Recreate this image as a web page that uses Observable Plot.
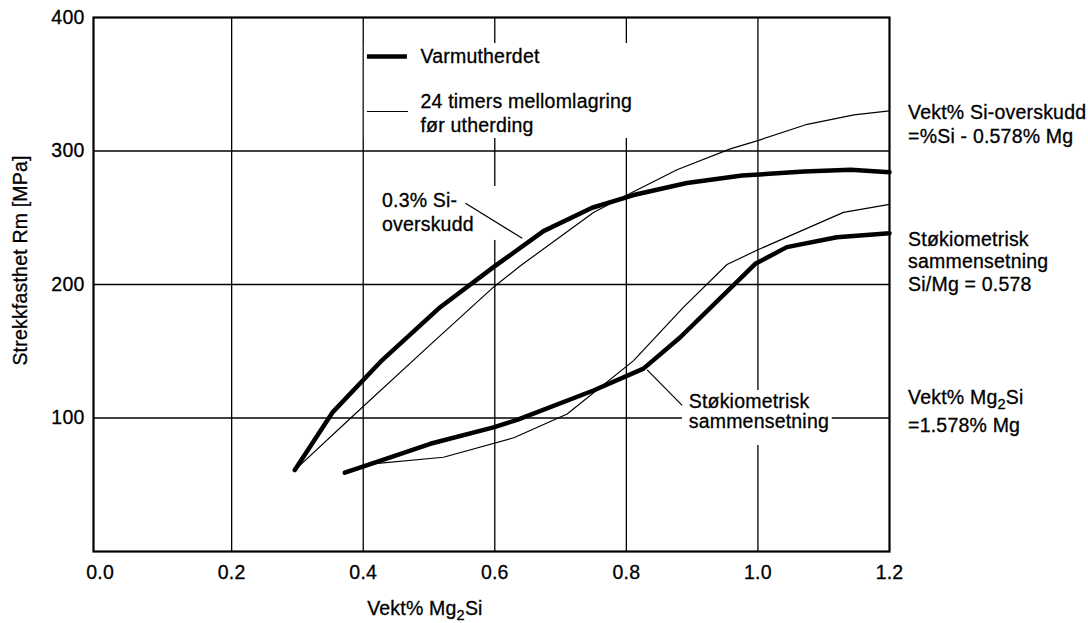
<!DOCTYPE html>
<html>
<head>
<meta charset="utf-8">
<script src="https://cdn.jsdelivr.net/npm/d3@7"></script>
<script src="https://cdn.jsdelivr.net/npm/@observablehq/plot@0.6"></script>
<style>
  body { margin: 0; background: #fff; }
  #chart svg text { stroke: #000; stroke-width: 0.3px; letter-spacing: 0.2px; }
</style>
</head>
<body>
<div id="chart"></div>
<script>
// Tensile strength Rm (MPa) against wt% Mg2Si for AlMgSi alloys,
// artificially aged directly vs. after 24 h intermediate storage.

// 0.3 % Si excess, artificially aged (Varmutherdet)
const hotExcessX = [0.296, 0.353, 0.426, 0.517, 0.598, 0.674, 0.748, 0.811, 0.892, 0.976, 1.070, 1.141, 1.2];
const hotExcessY = [61, 104, 142, 183, 213, 240, 257.5, 267, 276, 281.6, 284.6, 286, 284];

// 0.3 % Si excess, 24 h storage before ageing
const storedExcessX = [0.296, 0.381, 0.500, 0.598, 0.639, 0.700, 0.750, 0.801, 0.877, 0.958, 1.001, 1.075, 1.146, 1.2];
const storedExcessY = [61, 100, 154, 198, 214, 236, 254, 267, 286, 301.6, 308, 320, 327, 330];

// Stoichiometric composition, artificially aged
const hotStoichX = [0.372, 0.396, 0.502, 0.598, 0.634, 0.750, 0.826, 0.882, 0.996, 1.044, 1.120, 1.2];
const hotStoichY = [59, 63, 80.7, 93, 98.6, 120.6, 137, 160.5, 215.5, 228, 235.4, 238.4];

// Stoichiometric composition, 24 h storage before ageing
const storedStoichX = [0.372, 0.410, 0.522, 0.629, 0.710, 0.811, 0.887, 0.953, 1.000, 1.044, 1.130, 1.2];
const storedStoichY = [59, 65.5, 70.6, 85.2, 103, 143, 183, 215, 226, 235.5, 254, 260];

// Axis ticks
const xTicks = [0, 0.2, 0.4, 0.6, 0.8, 1.0, 1.2];
const yTicks = [100, 200, 300, 400];
const xGrid = [0.2, 0.4, 0.6, 0.8, 1.0];
const yGrid = [100, 200, 300];

// Legend entries
const legendNames = ["Varmutherdet", "24 timers mellomlagring\nfør utherding"];

const toRows = (xs, ys, series) => xs.map((x, i) => ({x, y: ys[i], series}));
const thickRows = [
  ...toRows(hotExcessX, hotExcessY, "excess"),
  ...toRows(hotStoichX, hotStoichY, "stoich")
];
const thinRows = [
  ...toRows(storedExcessX, storedExcessY, "excess"),
  ...toRows(storedStoichX, storedStoichY, "stoich")
];

// White panels that keep the grid away from labels
const panels = [
  {x1: 0.4018, x2: 0.862, y1: 309.4, y2: 380.5},
  {x1: 0.414, x2: 0.6085, y1: 233, y2: 273.4},
  {x1: 0.8852, x2: 1.113, y1: 79.4, y2: 120.6}
];

// Leader lines from labels to curves
const leaders = [
  {x1: 0.5554, y1: 260.8, x2: 0.6416, y2: 234.6},
  {x1: 0.8848, y1: 109.4, x2: 0.8316, y2: 136.1}
];

const legendSamples = [
  {x1: 0.4064, x2: 0.4672, y: 370.8, w: 4.5},
  {x1: 0.4064, x2: 0.4687, y: 329.6, w: 1.2}
];

const font = "'Liberation Sans', Arial, Helvetica, sans-serif";

const textMark = (items, lineHeight, extra = {}) =>
  Plot.text(items, {
    x: "x", y: "y", text: "text",
    textAnchor: "start", lineAnchor: "bottom",
    lineHeight, fill: "#000", ...extra
  });

const chart = Plot.plot({
  width: 1088,
  height: 623,
  marginLeft: 93,
  marginRight: 199,
  marginTop: 17,
  marginBottom: 72,
  style: {fontFamily: font, fontSize: "19.5px", color: "#000", background: "#fff"},
  x: {domain: [-0.01, 1.2]},
  y: {domain: [0, 400]},
  marks: [
    Plot.gridX(xGrid, {stroke: "#000", strokeOpacity: 1, strokeWidth: 1.3}),
    Plot.gridY(yGrid, {stroke: "#000", strokeOpacity: 1, strokeWidth: 1.3}),
    Plot.rect(panels, {x1: "x1", x2: "x2", y1: "y1", y2: "y2", fill: "#fff"}),
    Plot.frame({stroke: "#000", strokeWidth: 2.2}),
    Plot.axisX({ticks: xTicks, tickFormat: d3.format(".1f"), tickSize: 0, tickPadding: 14, label: null}),
    Plot.axisY({ticks: yTicks, tickSize: 0, tickPadding: 9, label: null}),
    Plot.line(thinRows, {x: "x", y: "y", z: "series", stroke: "#000", strokeWidth: 1.2}),
    Plot.line(thickRows, {x: "x", y: "y", z: "series", stroke: "#000", strokeWidth: 4.5, strokeLinejoin: "round"}),
    Plot.link(leaders, {x1: "x1", y1: "y1", x2: "x2", y2: "y2", stroke: "#000", strokeWidth: 1.2}),
    Plot.ruleY(legendSamples, {x1: "x1", x2: "x2", y: "y", stroke: "#000", strokeWidth: "w"}),
    textMark([{x: 0.487, y: 366.1, text: legendNames[0]}], 1.2),
    textMark([{x: 0.487, y: 314.6, text: legendNames[1]}], 1.19),
    textMark([{x: 0.4285, y: 240.4, text: "0.3% Si-\noverskudd"}], 1.2),
    textMark([{x: 0.8948, y: 92.4, text: "Støkiometrisk\nsammensetning"}], 1.05),
    textMark([{x: 1.2283, y: 305.8, text: "Vekt% Si-overskudd\n=%Si - 0.578% Mg"}], 1.25),
    textMark([{x: 1.2283, y: 195, text: "Støkiometrisk\nsammensetning\nSi/Mg = 0.578"}], 1.17),
    textMark([{x: 1.2283, y: 89.4, text: "Vekt% Mg2Si\n=1.578% Mg"}], 1.42),
    textMark([{x: 0.406, y: -47.9, text: "Vekt% Mg2Si"}], 1.2),
    Plot.text([{x: -0.121, y: 218, text: "Strekkfasthet Rm [MPa]"}], {
      x: "x", y: "y", text: "text", rotate: -90, textAnchor: "middle", fill: "#000"
    })
  ]
});

// Typeset the "2" in Mg2Si as a subscript
const svgNS = "http://www.w3.org/2000/svg";
const walker = document.createTreeWalker(chart, NodeFilter.SHOW_TEXT);
const hits = [];
while (walker.nextNode()) {
  if (walker.currentNode.data.includes("Mg2Si")) hits.push(walker.currentNode);
}
for (const node of hits) {
  const [before, after] = node.data.split("Mg2");
  const parent = node.parentNode;
  node.data = before + "Mg";
  const sub = document.createElementNS(svgNS, "tspan");
  sub.setAttribute("dy", "5");
  sub.setAttribute("font-size", "0.75em");
  sub.textContent = "2";
  const rest = document.createElementNS(svgNS, "tspan");
  rest.setAttribute("dy", "-5");
  rest.textContent = after;
  parent.insertBefore(sub, node.nextSibling);
  parent.insertBefore(rest, sub.nextSibling);
}

document.getElementById("chart").appendChild(chart);
</script>
</body>
</html>
